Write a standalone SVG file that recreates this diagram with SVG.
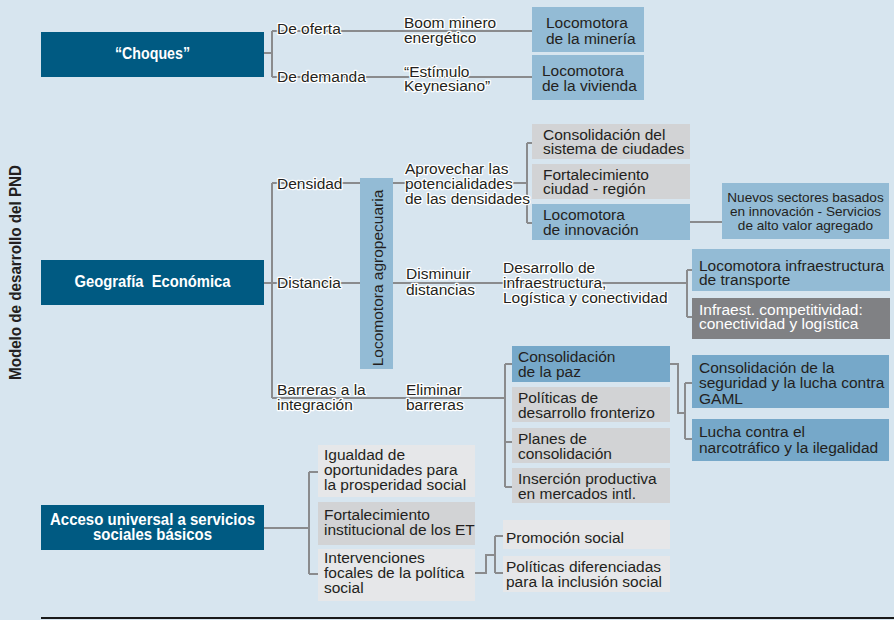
<svg xmlns="http://www.w3.org/2000/svg" width="894" height="620" viewBox="0 0 894 620">
<style>
.t{font-family:"Liberation Sans",Arial,sans-serif;font-size:15.5px;fill:#231f20}
.h{stroke:#ffffff;stroke-width:2.5px;stroke-linejoin:round;paint-order:stroke}
.b{font-family:"Liberation Sans",Arial,sans-serif;font-size:16.5px;font-weight:bold;fill:#ffffff}
.c{fill:none;stroke:#8a8b8d;stroke-width:2}
.dk{fill:#005a82}
.lb{fill:#93bbd5}
.mb{fill:#76a8c9}
.gr{fill:#d2d3d5}
.lg{fill:#e6e7e9}
.dg{fill:#808184}
</style>
<rect width="894" height="620" fill="#d7e5ef"/>
<text transform="translate(21,272.5) rotate(-90)" text-anchor="middle" font-family="Liberation Sans, Arial, sans-serif" font-size="17" font-weight="bold" fill="#231f20" textLength="215" lengthAdjust="spacingAndGlyphs">Modelo de desarrollo del PND</text>
<line x1="41" y1="618" x2="894" y2="618" stroke="#1a1a1a" stroke-width="2"/>
<g id="connectors">
<path class="c" d="M264 53H272M272 31V77M272 31H532M272 77H532"/>
<path class="c" d="M264 283H272M272 183V398M272 183H360M393 183H527M527 143V223M527 143H532M527 223H532"/>
<path class="c" d="M690 222H722"/>
<path class="c" d="M272 283H360M393 283H687M687 270V317M687 270H692M687 317H692"/>
<path class="c" d="M272 398H505M505 364V487M505 364H512M505 442H512M505 487H512"/>
<path class="c" d="M670 364H678V413H685M685 383V439M685 383H692M685 439H692"/>
<path class="c" d="M264 528H309M309 472V574M309 472H318M309 574H318"/>
<path class="c" d="M475 573H486V555H495M495 536V573M495 536H503M495 573H503"/>
</g>
<g id="choques"><rect class="dk" x="41" y="32" width="223" height="45"/><text class="b" x="152.5" y="59" text-anchor="middle" textLength="75" lengthAdjust="spacingAndGlyphs">“Choques”</text></g>
<g id="de-oferta"><text class="t h" x="277" y="34">De oferta</text></g>
<g id="de-demanda"><text class="t h" x="277" y="82">De demanda</text></g>
<g id="boom"><text class="t h" x="404" y="28">Boom minero<tspan x="404" y="43">energético</tspan></text></g>
<g id="estimulo"><text class="t h" x="404" y="77">“Estímulo<tspan x="404" y="91">Keynesiano”</tspan></text></g>
<g id="loc-mineria"><rect class="lb" x="532" y="7" width="112" height="45"/><text class="t" x="546" y="28">Locomotora<tspan x="546" y="44">de la minería</tspan></text></g>
<g id="loc-vivienda"><rect class="lb" x="532" y="55" width="112" height="45"/><text class="t" x="542" y="76">Locomotora<tspan x="542" y="91">de la vivienda</tspan></text></g>
<g id="geografia"><rect class="dk" x="41" y="260" width="223" height="45"/><text class="b" x="152.5" y="287" text-anchor="middle" xml:space="preserve" textLength="156" lengthAdjust="spacingAndGlyphs">Geografía  Económica</text></g>
<g id="densidad"><text class="t h" x="277" y="189">Densidad</text></g>
<g id="distancia"><text class="t h" x="277" y="288">Distancia</text></g>
<g id="barreras"><text class="t h" x="277" y="395">Barreras a la<tspan x="277" y="410">integración</tspan></text></g>
<g id="loc-agro"><rect class="lb" x="360" y="178" width="33" height="191"/><text class="t" transform="translate(383,278) rotate(-90)" text-anchor="middle">Locomotora agropecuaria</text></g>
<g id="aprovechar"><text class="t h" x="405" y="174">Aprovechar las<tspan x="405" y="189">potencialidades</tspan><tspan x="405" y="204">de las densidades</tspan></text></g>
<g id="cons-ciudades"><rect class="gr" x="532" y="124" width="158" height="35"/><text class="t" x="543" y="140">Consolidación del<tspan x="543" y="154">sistema de ciudades</tspan></text></g>
<g id="fort-ciudad"><rect class="gr" x="532" y="164" width="158" height="35"/><text class="t" x="543" y="180">Fortalecimiento<tspan x="543" y="194">ciudad - región</tspan></text></g>
<g id="loc-innovacion"><rect class="lb" x="532" y="204" width="158" height="36"/><text class="t" x="543" y="220">Locomotora<tspan x="543" y="235">de innovación</tspan></text></g>
<g id="nuevos"><rect class="lb" x="722" y="183" width="167" height="56"/><text class="t" text-anchor="middle" font-size="13.6" style="font-size:13.6px"><tspan x="805.5" y="202">Nuevos sectores basados</tspan><tspan x="805.5" y="216">en innovación - Servicios</tspan><tspan x="805.5" y="230">de alto valor agregado</tspan></text></g>
<g id="disminuir"><text class="t h" x="406" y="279">Disminuir<tspan x="406" y="295">distancias</tspan></text></g>
<g id="desarrollo"><text class="t h" x="503" y="273">Desarrollo de<tspan x="503" y="288">infraestructura,</tspan><tspan x="503" y="303">Logística y conectividad</tspan></text></g>
<g id="loc-transporte"><rect class="lb" x="692" y="249" width="198" height="42"/><text class="t" x="699" y="271" font-size="16.5">Locomotora infraestructura<tspan x="699" y="285">de transporte</tspan></text></g>
<g id="infraest"><rect class="dg" x="692" y="298" width="198" height="41"/><text class="t" x="699" y="315" font-size="16.5" style="fill:#ffffff">Infraest. competitividad:<tspan x="699" y="329">conectividad y logística</tspan></text></g>
<g id="eliminar"><text class="t h" x="406" y="395">Eliminar<tspan x="406" y="410">barreras</tspan></text></g>
<g id="cons-paz"><rect class="mb" x="512" y="346" width="158" height="36"/><text class="t" x="518" y="362" font-size="16">Consolidación<tspan x="518" y="377">de la paz</tspan></text></g>
<g id="pol-fronterizo"><rect class="gr" x="512" y="387" width="158" height="35"/><text class="t" x="518" y="403" font-size="16">Políticas de<tspan x="518" y="418">desarrollo fronterizo</tspan></text></g>
<g id="planes"><rect class="gr" x="512" y="428" width="158" height="35"/><text class="t" x="518" y="444" font-size="16">Planes de<tspan x="518" y="459">consolidación</tspan></text></g>
<g id="insercion"><rect class="gr" x="512" y="468" width="158" height="35"/><text class="t" x="518" y="484" font-size="16">Inserción productiva<tspan x="518" y="499">en mercados intl.</tspan></text></g>
<g id="cons-seguridad"><rect class="mb" x="692" y="355" width="197" height="53"/><text class="t" x="699" y="373" font-size="16">Consolidación de la<tspan x="699" y="388">seguridad y la lucha contra</tspan><tspan x="699" y="404">GAML</tspan></text></g>
<g id="lucha"><rect class="mb" x="692" y="419" width="197" height="42"/><text class="t" x="699" y="437" font-size="16">Lucha contra el<tspan x="699" y="453">narcotráfico y la ilegalidad</tspan></text></g>
<g id="acceso"><rect class="dk" x="41" y="505" width="223" height="45"/><text class="b" text-anchor="middle"><tspan x="152.5" y="525" textLength="205" lengthAdjust="spacingAndGlyphs">Acceso universal a servicios</tspan><tspan x="152.5" y="540" textLength="119" lengthAdjust="spacingAndGlyphs">sociales básicos</tspan></text></g>
<g id="igualdad"><rect class="lg" x="318" y="445" width="157" height="52"/><text class="t" x="324" y="460">Igualdad de<tspan x="324" y="475">oportunidades para</tspan><tspan x="324" y="490">la prosperidad social</tspan></text></g>
<g id="fort-inst"><rect class="gr" x="318" y="502" width="157" height="43"/><text class="t" x="324" y="520">Fortalecimiento<tspan x="324" y="535">institucional de los ET</tspan></text></g>
<g id="intervenciones"><rect class="lg" x="318" y="549" width="157" height="52"/><text class="t" x="324" y="563">Intervenciones<tspan x="324" y="578">focales de la política</tspan><tspan x="324" y="593">social</tspan></text></g>
<g id="promocion"><rect class="lg" x="503" y="520" width="167" height="29"/><text class="t" x="506" y="543">Promoción social</text></g>
<g id="pol-diferenciadas"><rect class="lg" x="503" y="556" width="167" height="36"/><text class="t" x="506" y="572">Políticas diferenciadas<tspan x="506" y="587">para la inclusión social</tspan></text></g>
</svg>
